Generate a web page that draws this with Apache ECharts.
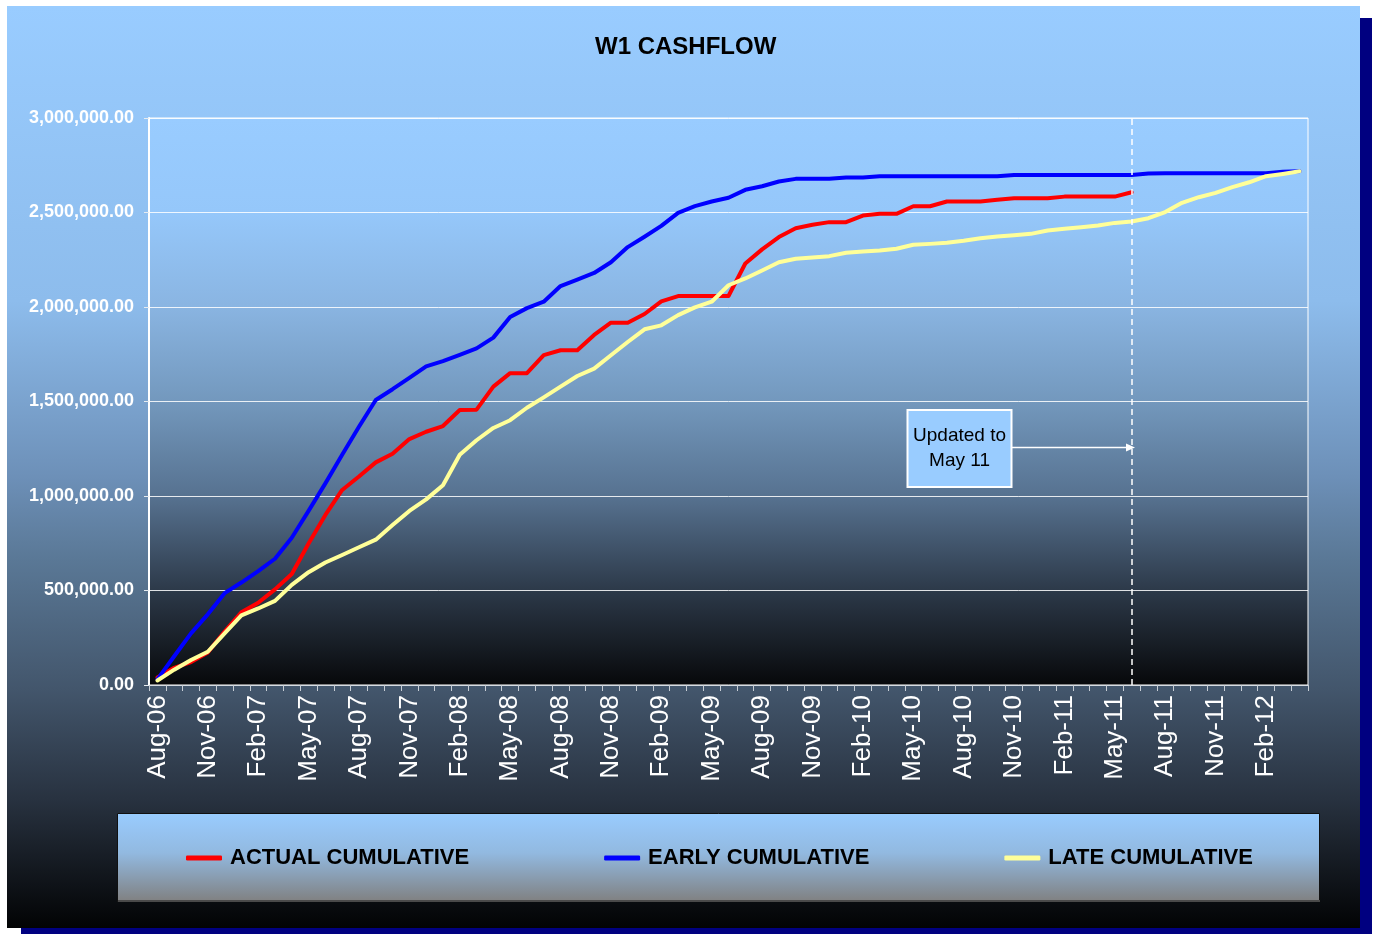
<!DOCTYPE html>
<html>
<head>
<meta charset="utf-8">
<script src="https://cdn.jsdelivr.net/npm/echarts@6/dist/echarts.min.js"></script>
<style>
  html, body { margin: 0; padding: 0; background: #ffffff; }
  #shadow { position: absolute; left: 21px; top: 18px; width: 1351px; height: 916px; background: #000080; }
  #frame {
    position: absolute; left: 7px; top: 6px; width: 1353px; height: 922px;
    background: linear-gradient(to bottom, #99ccff 0%, #8dbcec 32%, #6d90b8 51%, #5a7896 60%, #43566c 74%, #283240 86%, #020304 100%);
  }
  #chart { position: absolute; left: 0; top: 0; width: 1376px; height: 934px; }
</style>
</head>
<body>
<div id="shadow"></div>
<div id="frame"></div>
<div id="chart"></div>
<script>
const months = [
  "Aug-06", "Sep-06", "Oct-06", "Nov-06", "Dec-06", "Jan-07", "Feb-07", "Mar-07", "Apr-07", "May-07",
  "Jun-07", "Jul-07", "Aug-07", "Sep-07", "Oct-07", "Nov-07", "Dec-07", "Jan-08", "Feb-08", "Mar-08",
  "Apr-08", "May-08", "Jun-08", "Jul-08", "Aug-08", "Sep-08", "Oct-08", "Nov-08", "Dec-08", "Jan-09",
  "Feb-09", "Mar-09", "Apr-09", "May-09", "Jun-09", "Jul-09", "Aug-09", "Sep-09", "Oct-09", "Nov-09",
  "Dec-09", "Jan-10", "Feb-10", "Mar-10", "Apr-10", "May-10", "Jun-10", "Jul-10", "Aug-10", "Sep-10",
  "Oct-10", "Nov-10", "Dec-10", "Jan-11", "Feb-11", "Mar-11", "Apr-11", "May-11", "Jun-11", "Jul-11",
  "Aug-11", "Sep-11", "Oct-11", "Nov-11", "Dec-11", "Jan-12", "Feb-12", "Mar-12", "Apr-12"
];

// cumulative spend, ends at Jun-11
const actualCumulative = [
  40000, 91000, 121000, 172000, 283000, 385000, 435000, 506000, 587000, 749000,
  900000, 1032000, 1103000, 1178000, 1224000, 1301000, 1340000, 1370000, 1455000, 1457000,
  1579000, 1650000, 1650000, 1745000, 1771000, 1771000, 1852000, 1917000, 1917000, 1963000,
  2030000, 2058000, 2058000, 2058000, 2058000, 2230000, 2305000, 2370000, 2417000, 2435000,
  2449000, 2449000, 2484000, 2493000, 2493000, 2533000, 2533000, 2558000, 2558000, 2558000,
  2567000, 2576000, 2576000, 2576000, 2584000, 2584000, 2584000, 2584000, 2607000
];

const earlyCumulative = [
  30000, 152000, 273000, 374000, 486000, 542000, 603000, 668000, 779000, 921000,
  1067000, 1218000, 1366000, 1508000, 1565000, 1625000, 1686000, 1714000, 1747000, 1781000,
  1838000, 1947000, 1994000, 2028000, 2111000, 2145000, 2180000, 2237000, 2317000, 2372000,
  2429000, 2498000, 2534000, 2558000, 2578000, 2620000, 2639000, 2664000, 2678000, 2678000,
  2678000, 2685000, 2685000, 2692000, 2692000, 2692000, 2692000, 2692000, 2692000, 2692000,
  2692000, 2699000, 2699000, 2699000, 2699000, 2699000, 2699000, 2699000, 2699000, 2706000,
  2708000, 2708000, 2708000, 2708000, 2708000, 2708000, 2708000, 2715000, 2718000
];

const lateCumulative = [
  24000, 81000, 132000, 176000, 273000, 368000, 405000, 445000, 530000, 597000,
  648000, 688000, 729000, 769000, 846000, 921000, 982000, 1057000, 1218000, 1295000,
  1360000, 1401000, 1467000, 1522000, 1579000, 1635000, 1674000, 1745000, 1815000, 1882000,
  1903000, 1957000, 1998000, 2028000, 2115000, 2151000, 2193000, 2237000, 2255000, 2262000,
  2269000, 2287000, 2294000, 2299000, 2308000, 2329000, 2334000, 2340000, 2350000, 2364000,
  2373000, 2380000, 2387000, 2405000, 2414000, 2422000, 2431000, 2445000, 2452000, 2470000,
  2502000, 2551000, 2581000, 2604000, 2634000, 2660000, 2692000, 2704000, 2718000
];

const updatedMonth = "Jun-11";
const updatedNote = "Updated to\nMay 11";

const FONT = "Liberation Sans, Arial, sans-serif";

const chart = echarts.init(document.getElementById("chart"));

const plotBg = new echarts.graphic.LinearGradient(0, 0, 0, 1, [
  { offset: 0, color: "#99ccff" },
  { offset: 0.17, color: "#95c7fa" },
  { offset: 0.33, color: "#8ab5e2" },
  { offset: 0.5, color: "#7398bd" },
  { offset: 0.67, color: "#56718f" },
  { offset: 0.83, color: "#2d3a4a" },
  { offset: 1, color: "#07080a" }
]);

const legendBg = new echarts.graphic.LinearGradient(0, 0, 0, 1, [
  { offset: 0, color: "#99ccff" },
  { offset: 0.45, color: "#92b9e0" },
  { offset: 1, color: "#808080" }
]);

function lineSeries(name, data, color, extra) {
  return Object.assign({
    name: name,
    type: "line",
    data: data,
    symbol: "none",
    showSymbol: false,
    connectNulls: false,
    lineStyle: { width: 4, color: color, join: "round", cap: "round" },
    itemStyle: { color: color },
    emphasis: { disabled: true }
  }, extra || {});
}

chart.setOption({
  backgroundColor: "transparent",
  animation: false,
  textStyle: { fontFamily: FONT },
  title: {
    text: "W1 CASHFLOW",
    left: 595,
    top: 35,
    padding: 0,
    textStyle: { color: "#000", fontSize: 24, fontWeight: "bold", fontFamily: FONT }
  },
  grid: {
    left: 149,
    right: 68,
    top: 118,
    bottom: 249,
    show: true,
    backgroundColor: plotBg,
    borderColor: "#ffffff",
    borderWidth: 1
  },
  legend: {
    left: 186,
    top: 847,
    padding: 0,
    itemGap: 135,
    itemWidth: 36,
    itemHeight: 5,
    icon: "roundRect",
    textStyle: { color: "#000", fontSize: 22, fontWeight: "bold", fontFamily: FONT, padding: [0, 0, 0, 3] },
    data: ["ACTUAL CUMULATIVE", "EARLY CUMULATIVE", "LATE CUMULATIVE"]
  },
  xAxis: {
    type: "category",
    data: months,
    boundaryGap: true,
    axisLine: { show: true, lineStyle: { color: "#d8dde3", width: 1 } },
    axisTick: { show: true, interval: 0, length: 6, lineStyle: { color: "#c8ced6" } },
    axisLabel: {
      interval: 2,
      rotate: 90,
      margin: 10,
      color: "#ffffff",
      fontSize: 26,
      fontFamily: FONT
    },
    splitLine: { show: false }
  },
  yAxis: {
    type: "value",
    min: 0,
    max: 3000000,
    interval: 500000,
    axisLine: { show: true, lineStyle: { color: "#ffffff", width: 2 } },
    axisTick: { show: true, length: 5, lineStyle: { color: "#e6ebf0" } },
    axisLabel: {
      margin: 15,
      color: "#ffffff",
      fontSize: 18,
      fontWeight: "bold",
      fontFamily: FONT,
      formatter: (v) => v.toLocaleString("en-US", { minimumFractionDigits: 2, maximumFractionDigits: 2 })
    },
    splitLine: { show: true, lineStyle: { color: "rgba(255,255,255,0.85)", width: 1 } }
  },
  series: [
    lineSeries("ACTUAL CUMULATIVE", actualCumulative, "#ff0000", {
      markLine: {
        silent: true,
        symbol: ["none", "none"],
        label: { show: false },
        lineStyle: { color: "#ffffff", type: [6, 4], width: 1.5 },
        data: [{ xAxis: updatedMonth }]
      }
    }),
    lineSeries("EARLY CUMULATIVE", earlyCumulative, "#0000ff"),
    lineSeries("LATE CUMULATIVE", lateCumulative, "#ffff99")
  ],
  graphic: [
    {
      type: "rect",
      z: 0,
      shape: { x: 117.5, y: 813.5, width: 1202, height: 88 },
      style: { fill: legendBg, stroke: "#111111", lineWidth: 1 }
    },
    {
      type: "line",
      z: 1,
      shape: { x1: 118, y1: 901, x2: 1320, y2: 901 },
      style: { stroke: "#4a4a4a", lineWidth: 2 }
    },
    {
      type: "line",
      z: 10,
      shape: { x1: 1011, y1: 447.5, x2: 1128, y2: 447.5 },
      style: { stroke: "#ffffff", lineWidth: 1.5 }
    },
    {
      type: "polygon",
      z: 10,
      shape: { points: [[1126, 443.5], [1135, 447.5], [1126, 451.5]] },
      style: { fill: "#ffffff" }
    },
    {
      type: "rect",
      z: 10,
      shape: { x: 907.5, y: 410, width: 104, height: 77 },
      style: { fill: "#99ccff", stroke: "#ffffff", lineWidth: 2 }
    },
    {
      type: "text",
      z: 11,
      x: 959.5,
      y: 448.5,
      style: {
        text: updatedNote,
        fill: "#000000",
        font: "19px " + FONT,
        align: "center",
        verticalAlign: "middle",
        lineHeight: 25
      }
    }
  ]
});
</script>
</body>
</html>
